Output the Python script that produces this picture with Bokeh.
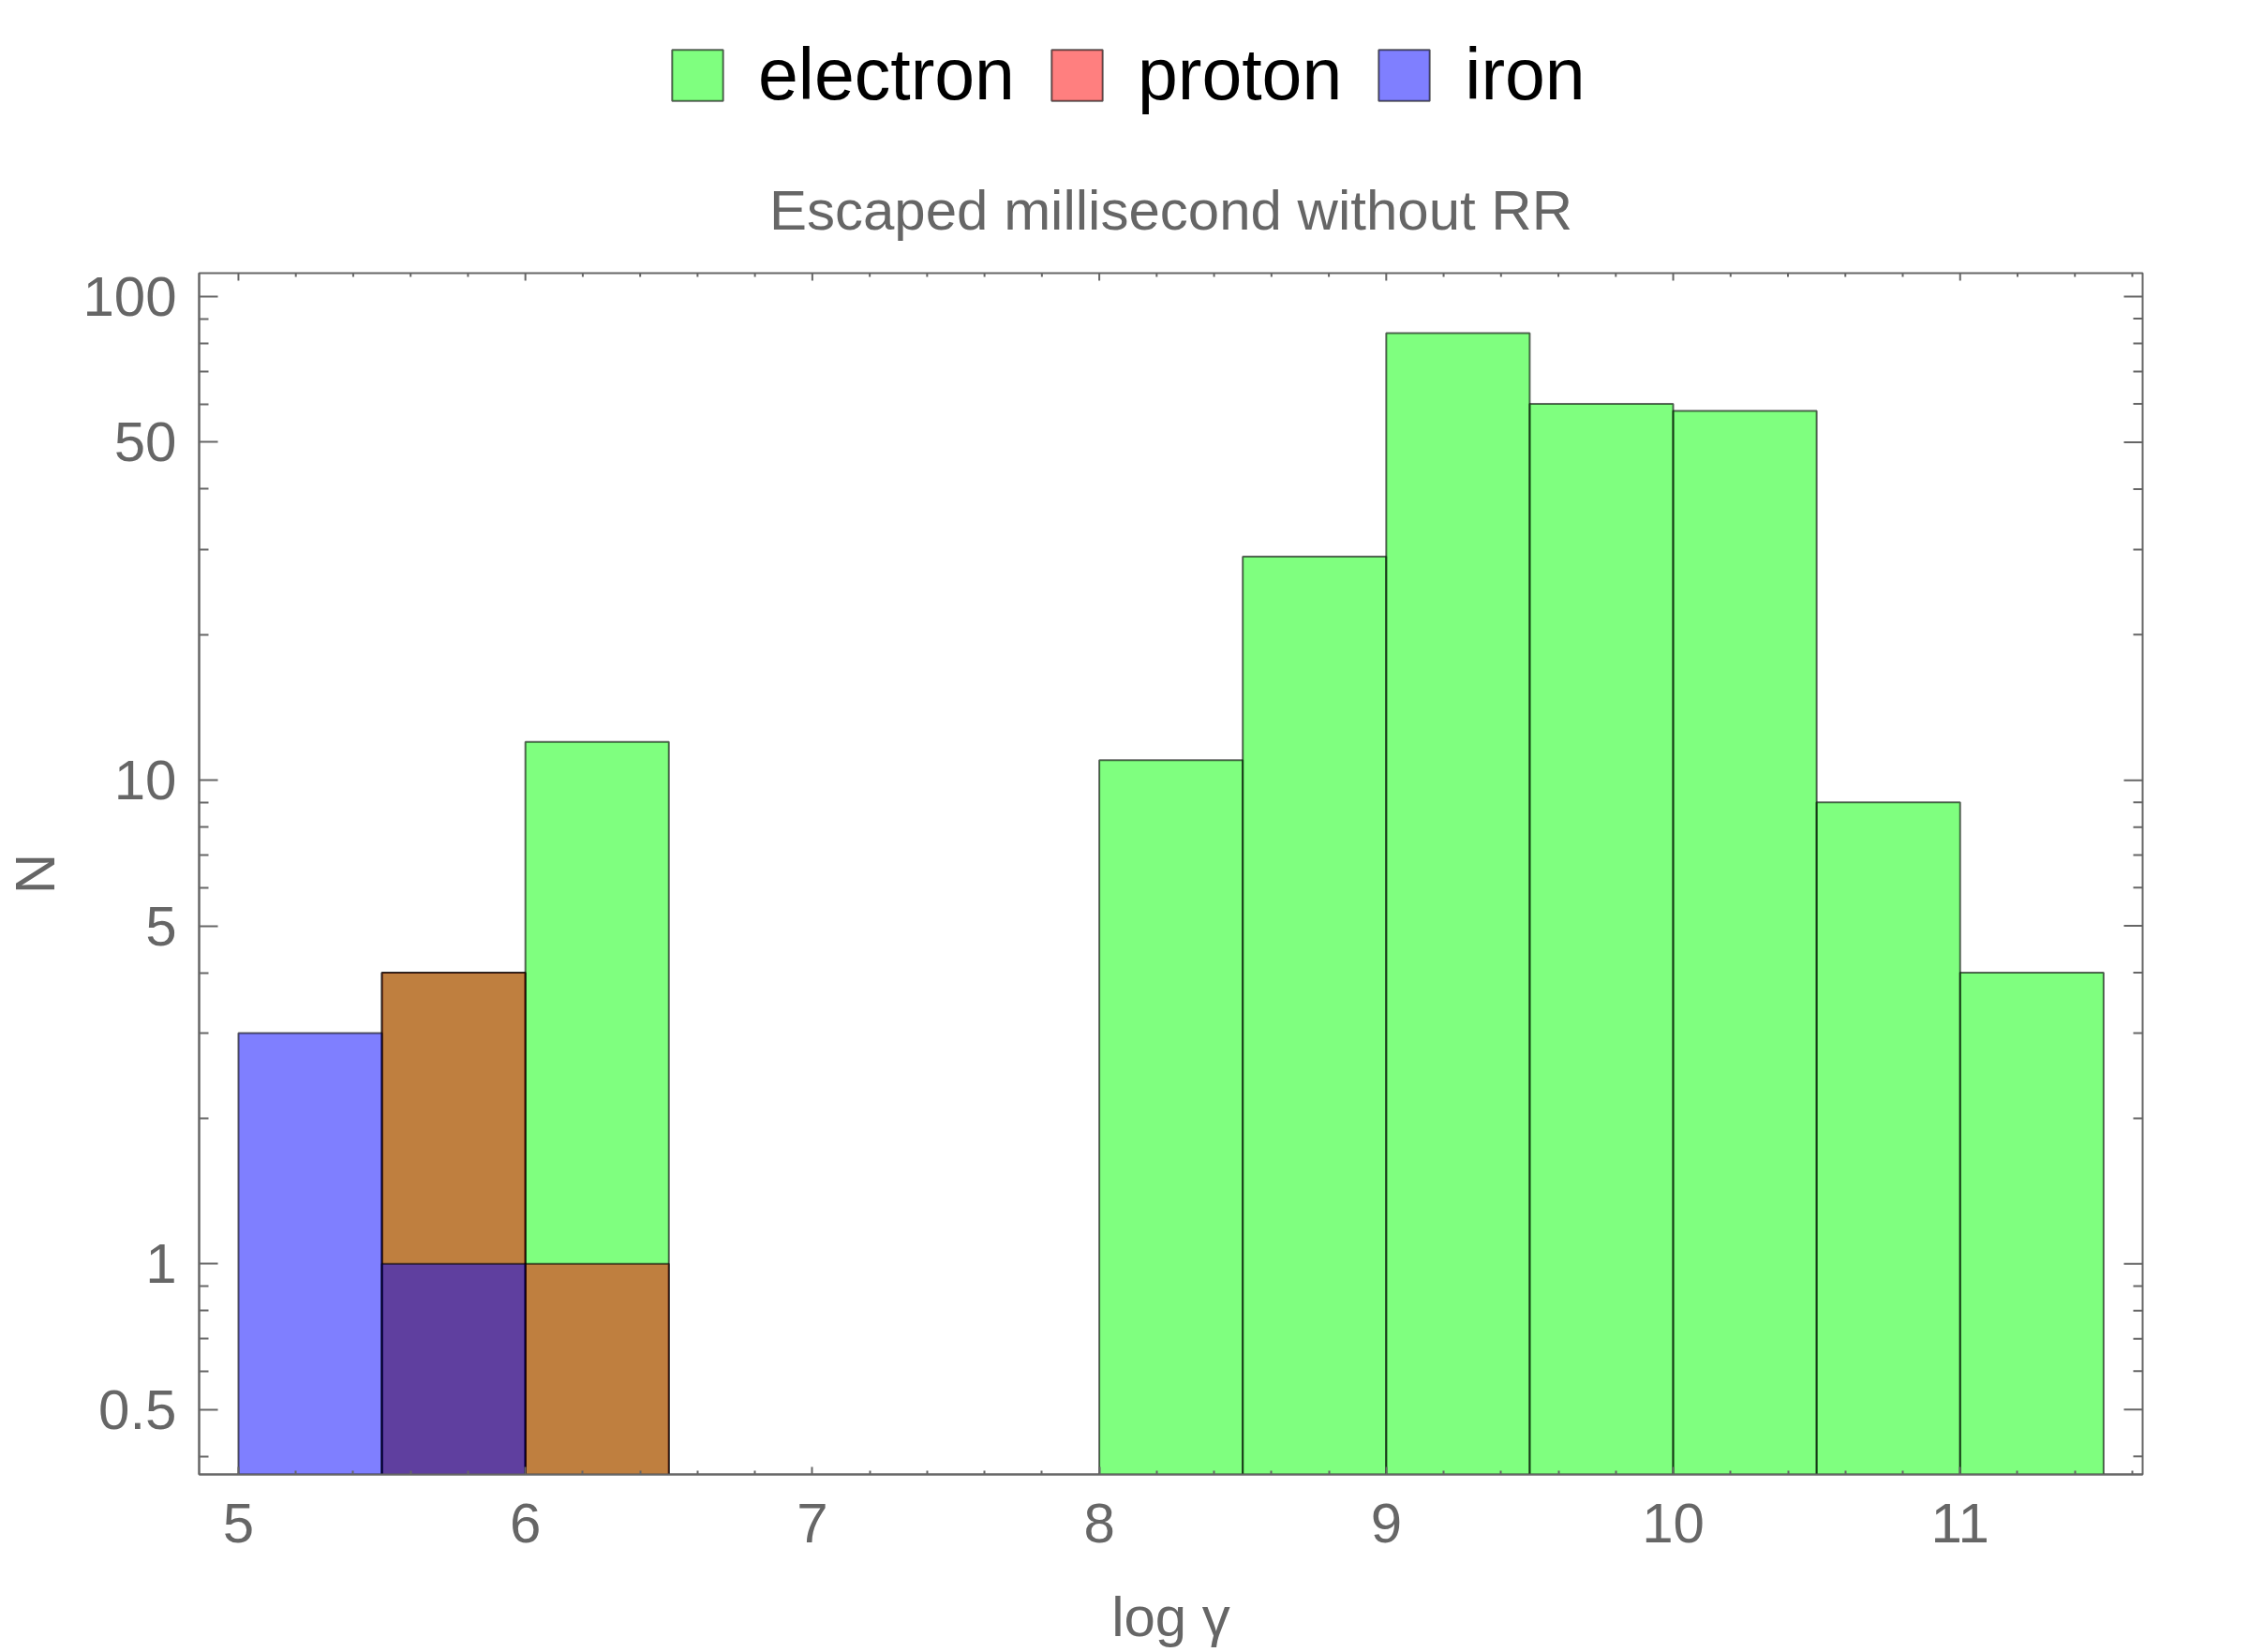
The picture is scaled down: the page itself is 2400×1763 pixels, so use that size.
import math
from bokeh.plotting import figure
from bokeh.layouts import column
from bokeh.models import (Range1d, FixedTicker, Legend, LegendItem, Title,
                          ColumnDataSource, BasicTickFormatter)
from bokeh.embed import file_html
from bokeh.resources import INLINE

# ---- data ----
bin_width = 0.5
electron_left = [5.5, 6.0, 8.0, 8.5, 9.0, 9.5, 10.0, 10.5, 11.0]
electron_count = [4, 12, 11, 29, 84, 60, 58, 9, 4]
proton_left = [5.5, 6.0]
proton_count = [4, 1]
iron_left = [5.0, 5.5]
iron_count = [3, 1]

series_names = ["electron", "proton", "iron"]
series_colors = ["#00FF00", "#FF0000", "#0000FF"]

x_major = [5, 6, 7, 8, 9, 10, 11]
y_major = [0.5, 1, 5, 10, 50, 100]
y_labels = ["0.5", "1", "5", "10", "50", "100"]
y_minor = [0.4, 0.6, 0.7, 0.8, 0.9, 2, 3, 4, 6, 7, 8, 9, 20, 30, 40, 60, 70, 80, 90]

title_text = "Escaped millisecond without RR"
x_label = "log \u03b3"
y_label = "N"

FONT = "Liberation Sans"
GRAY = "#666666"
W = 2392
HEADER_H = 150

x_lo, x_hi = 4.863, 11.636
y_lo, y_hi = 0.367, 111.8

common = dict(line_color="black", line_alpha=0.6, line_width=2, fill_alpha=0.5)

def src(lefts, counts):
    return ColumnDataSource(dict(left=lefts, right=[l + bin_width for l in lefts],
                                 top=counts, bottom=[0.3] * len(lefts)))

sources = [src(electron_left, electron_count),
           src(proton_left, proton_count),
           src(iron_left, iron_count)]

# ---- header with the legend (its own frame is aligned with the main frame) ----
header = figure(width=W, height=HEADER_H, output_backend="svg", toolbar_location=None,
                title=None, x_range=Range1d(0, 1), y_range=Range1d(0, 1),
                x_axis_location=None, y_axis_location=None, min_border=0)
header.grid.visible = False
header.outline_line_color = None
header.background_fill_color = "white"
header.border_fill_color = "white"
legend_renderers = [header.quad(left="left", right="right", top="top", bottom="bottom",
                                source=s, fill_color=c, **common)
                    for s, c in zip(sources, series_colors)]
legend = Legend(items=[LegendItem(label=n, renderers=[r])
                       for n, r in zip(series_names, legend_renderers)],
                location=(498, 26), orientation="horizontal",
                glyph_width=68, glyph_height=68, label_standoff=31, spacing=32,
                padding=0, margin=0, border_line_color=None, background_fill_alpha=0,
                label_text_font=FONT, label_text_font_size="77px", label_text_color="black")
header.add_layout(legend, "center")

# ---- main histogram ----
p = figure(width=W, height=1763 - HEADER_H, output_backend="svg", toolbar_location=None,
           title=None,
           x_range=Range1d(x_lo, x_hi), y_range=Range1d(y_lo, y_hi),
           y_axis_type="log",
           min_border_left=212, min_border_right=W - 2286, min_border_top=291 - HEADER_H,
           min_border_bottom=190)
p.grid.visible = False
p.outline_line_color = GRAY
p.outline_line_width = 2
p.background_fill_color = "white"
p.border_fill_color = "white"

for s, c in zip(sources, series_colors):
    p.quad(left="left", right="right", top="top", bottom="bottom",
           source=s, fill_color=c, **common)

x_minor = [round(4.8 + 0.2 * i, 1) for i in range(36)]
x_minor = [v for v in x_minor if x_lo < v < x_hi and v not in x_major]
xt = FixedTicker(ticks=x_major, minor_ticks=x_minor)
yt = FixedTicker(ticks=y_major, minor_ticks=y_minor)

def style_axis(ax, major_in, minor_in):
    ax.axis_line_color = GRAY
    ax.axis_line_width = 2
    ax.major_tick_line_color = GRAY
    ax.minor_tick_line_color = GRAY
    ax.major_tick_line_width = 2
    ax.minor_tick_line_width = 2
    ax.major_tick_in = major_in
    ax.major_tick_out = 0
    ax.minor_tick_in = minor_in
    ax.minor_tick_out = 0
    ax.major_label_text_font = FONT
    ax.major_label_text_color = GRAY
    ax.major_label_text_font_size = "60px"
    ax.axis_label_text_font = FONT
    ax.axis_label_text_color = GRAY
    ax.axis_label_text_font_style = "normal"
    ax.axis_label_text_font_size = "60px"

xa = p.xaxis[0]
xa.ticker = xt
style_axis(xa, 8, 4)
xa.major_label_standoff = 31
xa.axis_label = x_label
xa.axis_label_standoff = 43

ya = p.yaxis[0]
ya.ticker = yt
ya.formatter = BasicTickFormatter()
ya.major_label_overrides = {v: s for v, s in zip(y_major, y_labels)}
style_axis(ya, 20, 10)
ya.major_label_standoff = 24
ya.axis_label = y_label
ya.axis_label_standoff = 14

# mirrored frame ticks on top and right edges (inward)
tick_style = dict(line_color=GRAY, line_width=2, length_units="screen")
p.ray(x=x_major, y=[y_hi] * len(x_major), length=8, angle=-math.pi / 2, **tick_style)
p.ray(x=x_minor, y=[y_hi] * len(x_minor), length=4, angle=-math.pi / 2, **tick_style)
p.ray(x=[x_hi] * len(y_major), y=y_major, length=20, angle=math.pi, **tick_style)
p.ray(x=[x_hi] * len(y_minor), y=y_minor, length=10, angle=math.pi, **tick_style)

title = Title(text=title_text, align="center", text_font=FONT, text_font_size="60px",
              text_font_style="normal", text_color=GRAY, standoff=68)
p.add_layout(title, "above")

layout = column(header, p, spacing=0)
open("out.html", "w").write(file_html(layout, INLINE))
